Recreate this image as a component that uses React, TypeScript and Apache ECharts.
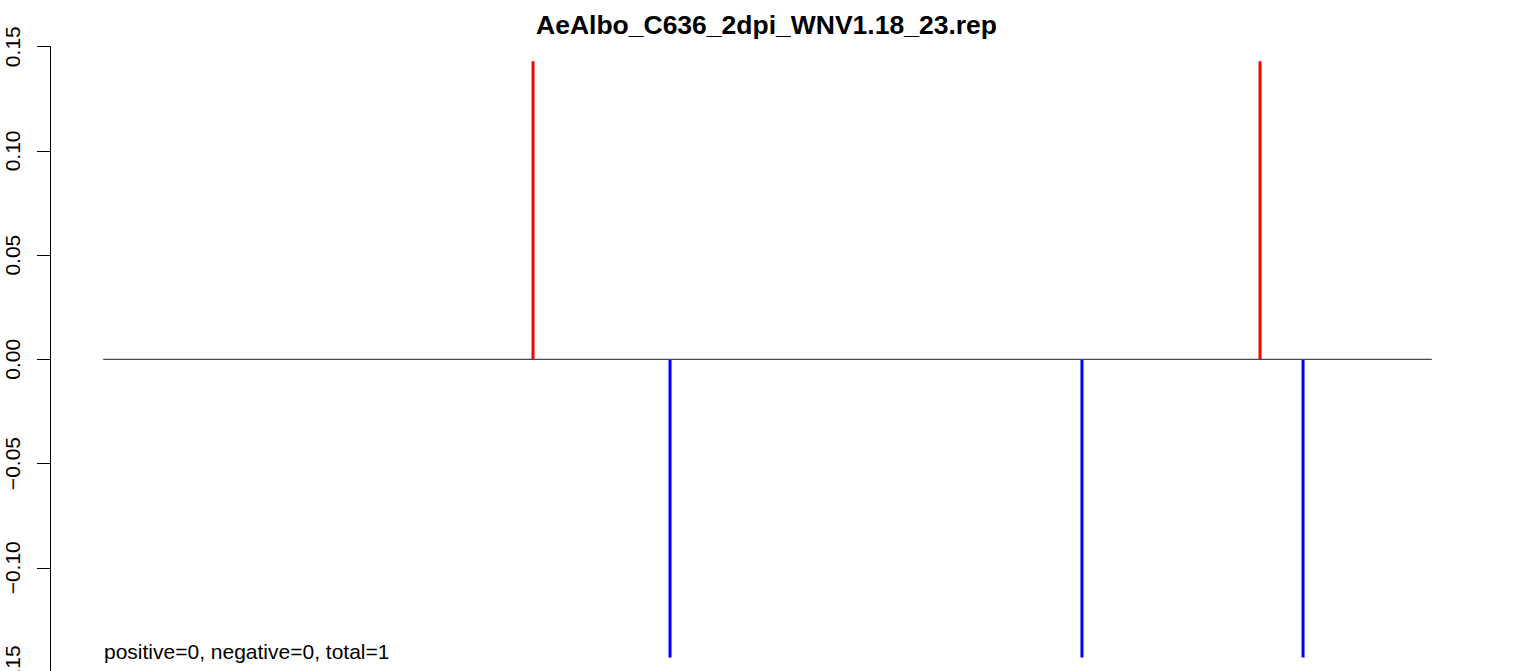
import React, { useEffect, useRef } from "react";
import * as echarts from "echarts";

const titleText = "AeAlbo_C636_2dpi_WNV1.18_23.rep";
const footnote = "positive=0, negative=0, total=1";
const genomeStart = 1;
const genomeEnd = 11029;
const positions = [3569, 4706, 8125, 9603, 9960];
const values = [0.143, -0.143, -0.143, 0.143, -0.143];
const yMin = -0.15;
const yMax = 0.15;
const yStep = 0.05;

export default function App() {
  const ref = useRef<HTMLDivElement>(null);
  useEffect(() => {
    if (!ref.current) return;
    const chart = echarts.init(ref.current, null, { renderer: "svg" });
    const span = genomeEnd - genomeStart;
    const pad = span * 0.04;
    const font = '"Liberation Sans", Arial, Helvetica, sans-serif';
    chart.setOption({
      animation: false,
      backgroundColor: "#ffffff",
      title: {
        text: titleText,
        left: "center",
        top: 11.5,
        padding: 0,
        textStyle: { fontSize: 26.5, fontWeight: "bold", color: "#000", fontFamily: font },
      },
      grid: {
        left: 50,
        right: 48,
        top: 46.7,
        height: 625.3,
        containLabel: false,
        outerBoundsMode: "none",
      },
      xAxis: {
        type: "value",
        min: genomeStart - pad,
        max: genomeEnd + pad,
        show: false,
        splitLine: { show: false },
      },
      yAxis: {
        type: "value",
        min: yMin,
        max: yMax,
        interval: yStep,
        axisLine: { show: true, onZero: false, lineStyle: { color: "#000", width: 1 } },
        axisTick: { show: true, length: 13, lineStyle: { color: "#000", width: 1 } },
        splitLine: { show: false },
        axisLabel: {
          rotate: 90,
          margin: 27,
          fontSize: 21,
          color: "#000",
          fontFamily: font,
          showMinLabel: true,
          showMaxLabel: true,
          formatter: (v: number) => {
            if (Math.abs(v) < 1e-9) return "0.00";
            const s = v.toFixed(2);
            return s.replace("-", "\u2212");
          },
        },
      },
      series: [
        {
          type: "line",
          data: [
            [genomeStart, 0],
            [genomeEnd, 0],
          ],
          symbol: "none",
          lineStyle: { color: "#4a4a4a", width: 1.2 },
          z: 5,
          silent: true,
        },
        {
          type: "custom",
          data: positions.map((p, i) => [p, values[i]]),
          renderItem: (params: any, api: any) => {
            const x = api.value(0);
            const v = api.value(1);
            const a = api.coord([x, 0]);
            const b = api.coord([x, v]);
            return {
              type: "line",
              shape: { x1: a[0], y1: a[1], x2: b[0], y2: b[1] },
              style: { stroke: v > 0 ? "#ff0000" : "#0000ff", lineWidth: 3 },
            };
          },
          z: 3,
          silent: true,
        },
      ],
      graphic: [
        {
          type: "text",
          x: 104,
          y: 651.2,
          style: {
            text: footnote,
            fill: "#000",
            font: `21px ${font}`,
            textAlign: "left",
            verticalAlign: "middle",
            textVerticalAlign: "middle",
          },
        },
      ],
    });
    return () => chart.dispose();
  }, []);
  return (
    <div
      ref={ref}
      style={{ position: "fixed", left: 0, top: 0, width: 1533, height: 671, background: "#fff" }}
    />
  );
}
